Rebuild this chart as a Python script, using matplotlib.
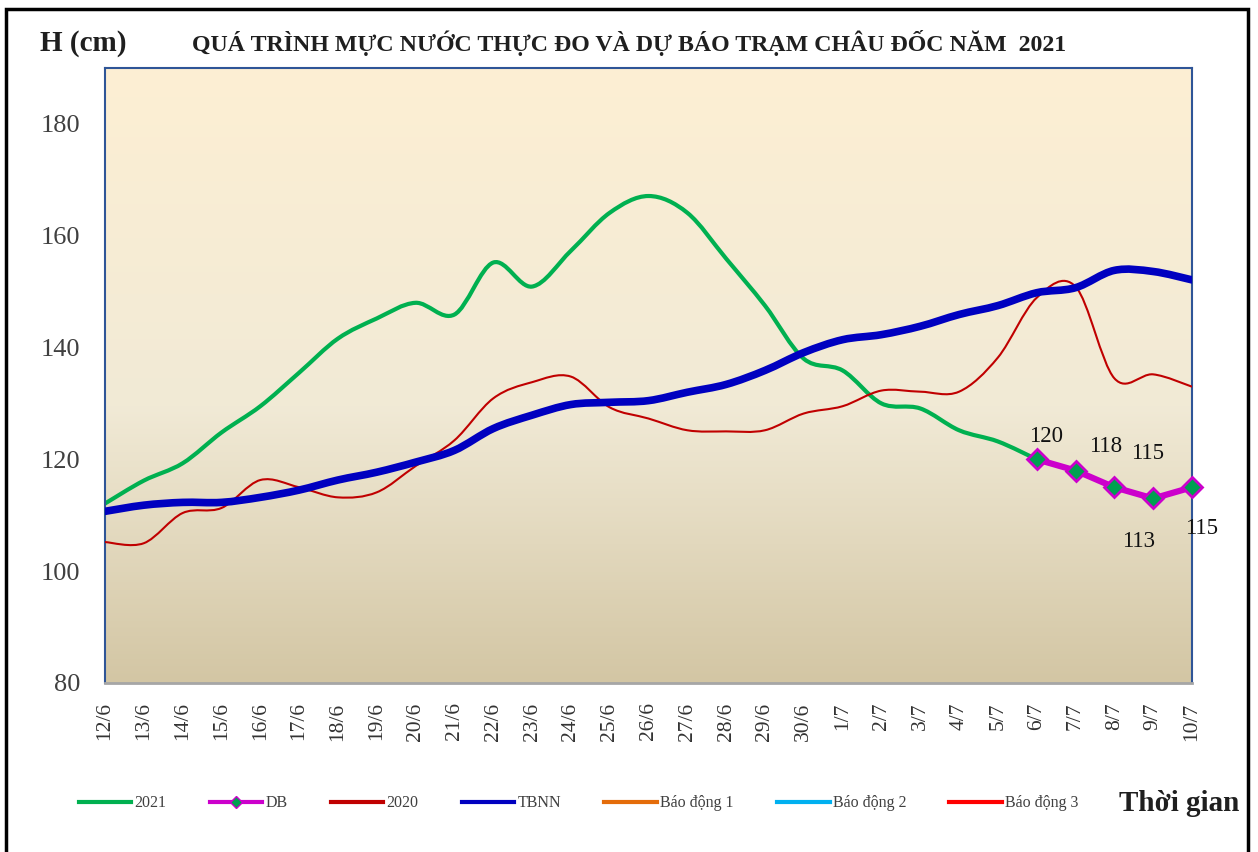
import numpy as np
import matplotlib
matplotlib.use("Agg")
from matplotlib import pyplot as plt
from matplotlib.path import Path
from matplotlib.patches import PathPatch, Rectangle
from matplotlib.lines import Line2D
from matplotlib.colors import LinearSegmentedColormap


dates = ["12/6", "13/6", "14/6", "15/6", "16/6", "17/6", "18/6", "19/6", "20/6",
         "21/6", "22/6", "23/6", "24/6", "25/6", "26/6", "27/6", "28/6", "29/6",
         "30/6", "1/7", "2/7", "3/7", "4/7", "5/7", "6/7", "7/7", "8/7", "9/7", "10/7"]

h2021 = [112.1, 116.2, 119.3, 124.8, 129.5, 135.5, 141.6, 145.2, 148.0, 145.9,
         155.2, 150.9, 157.3, 164.1, 167.1, 164.1, 155.9, 147.5, 138.0, 135.9,
         130.0, 129.1, 125.2, 123.2, 120.0]

db_start = 24
db_values = [120, 118, 115, 113, 115]

h2020 = [105.2, 105.0, 110.4, 111.3, 116.3, 115.0, 113.2, 114.1, 118.8, 123.4,
         130.9, 133.8, 134.8, 129.3, 127.3, 125.2, 125.0, 125.2, 128.2, 129.5,
         132.3, 132.1, 132.1, 138.2, 148.9, 150.9, 134.5, 135.2, 133.0]

tbnn = [110.7, 111.8, 112.3, 112.3, 113.2, 114.5, 116.3, 117.7, 119.5, 121.6,
        125.5, 127.9, 129.8, 130.2, 130.5, 132.0, 133.4, 135.9, 139.1, 141.4,
        142.3, 143.8, 145.9, 147.5, 149.8, 150.7, 153.8, 153.6, 152.1]

# muc bao dong tram Chau Doc (nam ngoai khung truc)
bd1, bd2, bd3 = 350, 400, 450

# vi tri nhan (pixel) so voi diem
label_offsets = [(9, 23), (30, 24), (33, 34), (-15, -43), (10, -41)]


def smooth(ax, xs, ys, **kw):
    pts = np.column_stack([xs, ys]).astype(float)
    n = len(pts)
    verts = [pts[0]]
    codes = [Path.MOVETO]
    for i in range(n - 1):
        p0 = pts[max(i - 1, 0)]
        p1 = pts[i]
        p2 = pts[i + 1]
        p3 = pts[min(i + 2, n - 1)]
        verts += [p1 + (p2 - p0) / 6, p2 - (p3 - p1) / 6, p2]
        codes += [Path.CURVE4] * 3
    ax.add_patch(PathPatch(Path(verts, codes), fill=False, capstyle="round",
                           joinstyle="round", **kw))


plt.rcParams['font.family'] = ['Liberation Serif', 'DejaVu Serif']

fig = plt.figure(figsize=(12.58, 8.52), dpi=100)
ax = fig.add_axes([0.0835, 0.1984, 0.864, 0.7218])

x = np.arange(len(dates))
ax.set_xlim(0, len(dates) - 1)
ax.set_ylim(80, 190)

cmap = LinearSegmentedColormap.from_list(
    "bg", [(0, "#FDEFD3"), (0.55, "#F1EAD6"), (1, "#D3C6A4")])
ax.imshow(np.linspace(0, 1, 256).reshape(-1, 1), cmap=cmap, aspect="auto",
          extent=[0, len(dates) - 1, 80, 190], origin="upper", zorder=0)

smooth(ax, x[:len(h2021)], h2021, edgecolor="#00B050", linewidth=3, zorder=2)
xd = x[db_start:db_start + len(db_values)]
ax.plot(xd, db_values, color="#CC00CC", linewidth=4.5, marker="D",
        markersize=10, markerfacecolor="#00A050", markeredgecolor="#CC00CC",
        markeredgewidth=2, clip_on=False, zorder=3)
smooth(ax, x, h2020, edgecolor="#C00000", linewidth=1.5, zorder=4)
smooth(ax, x, tbnn, edgecolor="#0000C0", linewidth=5.5, zorder=5)
ax.plot(x, [bd1] * len(x), color="#E46C0A", linewidth=3)
ax.plot(x, [bd2] * len(x), color="#00B0F0", linewidth=3)
ax.plot(x, [bd3] * len(x), color="#FF0000", linewidth=3)

for xi, v, off in zip(xd, db_values, label_offsets):
    ax.annotate(str(v), (xi, v), xytext=off, textcoords="offset pixels",
                ha="center", va="center", fontsize=16.5, color="#111111",
                zorder=6, annotation_clip=False)

ax.set_yticks([80, 100, 120, 140, 160, 180])
ax.set_xticks(x)
ax.set_xticklabels(dates, rotation=90, fontsize=15.5, color="#333333")
ax.tick_params(axis="y", labelsize=19, labelcolor="#404040", length=0, pad=18)
ax.tick_params(axis="x", length=0, pad=14)

for s in ["left", "top", "right"]:
    ax.spines[s].set_color("#2F5597")
    ax.spines[s].set_linewidth(1.5)
ax.spines["bottom"].set_color("#A6A6A6")
ax.spines["bottom"].set_linewidth(2)

fig.text(0.032, 0.949, "H (cm)", fontsize=21, fontweight="bold",
         color="#1F1F1F", va="center", ha="left")
fig.text(0.5, 0.949, "QUÁ TRÌNH MỰC NƯỚC THỰC ĐO VÀ DỰ BÁO TRẠM CHÂU ĐỐC NĂM  2021",
         fontsize=17.2, fontweight="bold", color="#1F1F1F", va="center", ha="center")
fig.text(0.985, 0.057, "Thời gian", fontsize=21, fontweight="bold",
         color="#1F1F1F", va="center", ha="right")

handles = [
    Line2D([], [], color="#00B050", linewidth=3),
    Line2D([], [], color="#CC00CC", linewidth=3, marker="D", markersize=6,
           markerfacecolor="#00A050", markeredgecolor="#CC00CC"),
    Line2D([], [], color="#C00000", linewidth=3),
    Line2D([], [], color="#0000C0", linewidth=3),
    Line2D([], [], color="#E46C0A", linewidth=3),
    Line2D([], [], color="#00B0F0", linewidth=3),
    Line2D([], [], color="#FF0000", linewidth=3),
]
names = ["2021", "DB", "2020", "TBNN", "Báo động 1", "Báo động 2", "Báo động 3"]
fig.legend(handles, names, loc="center", bbox_to_anchor=(0.46, 0.057), ncol=7,
           frameon=False, fontsize=11.5, handlelength=3.3, handletextpad=0.2,
           columnspacing=2.7, labelcolor="#404040")

fig.add_artist(Rectangle((0.0048, -0.02), 0.9873, 1.0094, transform=fig.transFigure,
                         fill=False, edgecolor="black", linewidth=2.5))

fig.savefig("out.png", dpi=100)
